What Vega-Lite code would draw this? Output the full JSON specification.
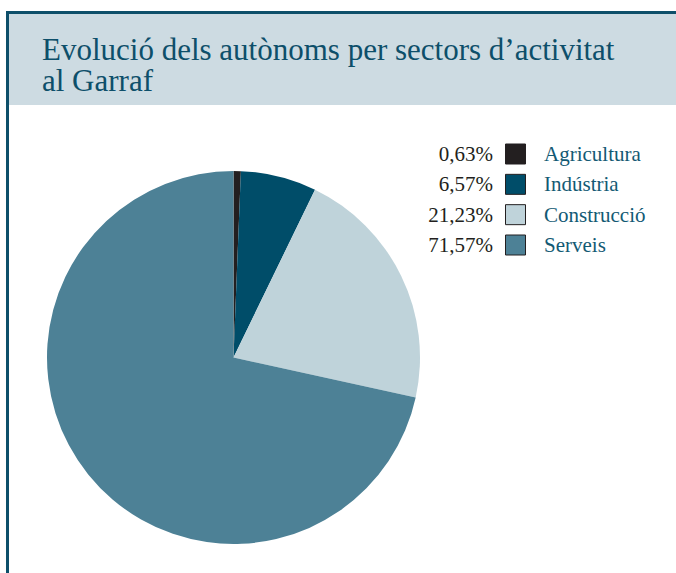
{
  "$schema": "https://vega.github.io/schema/vega-lite/v6.json",
  "background": "white",
  "padding": {"left": 6, "top": 11, "right": 0, "bottom": 0},
  "spacing": 0,
  "config": {
    "view": {"stroke": null},
    "concat": {"spacing": 0},
    "font": "Liberation Serif"
  },
  "datasets": {
    "sectors": [
      {"sector": "Agricultura", "pct": 0.63, "label": "0,63%", "order": 1},
      {"sector": "Indústria", "pct": 6.57, "label": "6,57%", "order": 2},
      {"sector": "Construcció", "pct": 21.23, "label": "21,23%", "order": 3},
      {"sector": "Serveis", "pct": 71.57, "label": "71,57%", "order": 4}
    ]
  },
  "hconcat": [
    {
      "width": 3,
      "height": 562,
      "view": {"fill": "#0d4f6a", "stroke": null},
      "data": {"values": []},
      "mark": "point"
    },
    {
      "spacing": 0,
      "vconcat": [
        {
          "width": 667,
          "height": 3,
          "view": {"fill": "#0d4f6a", "stroke": null},
          "data": {"values": []},
          "mark": "point"
        },
        {
          "width": 667,
          "height": 91,
          "view": {"fill": "#cddbe2", "stroke": null},
          "title": {
            "text": ["Evolució dels autònoms per sectors d’activitat", "al Garraf"],
            "anchor": "start",
            "frame": "group",
            "orient": "top",
            "offset": -84,
            "dx": 33,
            "font": "Liberation Serif",
            "fontSize": 31,
            "fontWeight": "normal",
            "lineHeight": 31,
            "color": "#0d4f6a"
          },
          "data": {"values": []},
          "mark": "point"
        },
        {
          "width": 667,
          "height": 37,
          "view": {"fill": "white", "stroke": null},
          "data": {"values": []},
          "mark": "point"
        },
        {
          "bounds": "flush",
          "spacing": 0,
          "hconcat": [
            {
              "width": 449,
              "height": 431,
              "view": {"fill": "white", "stroke": null},
              "data": {"name": "sectors"},
              "mark": {"type": "arc", "outerRadius": 186.5},
              "encoding": {
                "theta": {"field": "pct", "type": "quantitative", "stack": true},
                "order": {"field": "order", "type": "quantitative"},
                "color": {
                  "field": "sector",
                  "type": "nominal",
                  "scale": {
                    "domain": ["Agricultura", "Indústria", "Construcció", "Serveis"],
                    "range": ["#231f20", "#004d69", "#bfd3da", "#4d8196"]
                  },
                  "legend": null
                }
              }
            },
            {
              "width": 218,
              "height": 431,
              "view": {"fill": "white", "stroke": null},
              "data": {"name": "sectors"},
              "encoding": {
                "y": {
                  "field": "sector",
                  "type": "nominal",
                  "sort": ["Agricultura", "Indústria", "Construcció", "Serveis"],
                  "scale": {"type": "point", "range": [12, 103], "padding": 0},
                  "axis": null
                }
              },
              "layer": [
                {
                  "mark": {"type": "text", "align": "right", "baseline": "middle", "fontSize": 21, "color": "#231f20", "dy": 1},
                  "encoding": {
                    "x": {"datum": "pct", "type": "nominal", "scale": {"type": "point", "domain": ["pct", "sym", "lab"], "range": [35, 80], "padding": 0}, "axis": null},
                    "text": {"field": "label"}
                  }
                },
                {
                  "mark": {"type": "square", "size": 400, "opacity": 1, "filled": true, "stroke": "#231f20", "strokeWidth": 1},
                  "encoding": {
                    "x": {"datum": "sym", "type": "nominal"},
                    "color": {
                      "field": "sector",
                      "type": "nominal",
                      "scale": {
                        "domain": ["Agricultura", "Indústria", "Construcció", "Serveis"],
                        "range": ["#231f20", "#004d69", "#bfd3da", "#4d8196"]
                      },
                      "legend": null
                    }
                  }
                },
                {
                  "mark": {"type": "text", "align": "left", "baseline": "middle", "fontSize": 21, "color": "#135a74", "dy": 1, "dx": 6},
                  "encoding": {
                    "x": {"datum": "lab", "type": "nominal"},
                    "text": {"field": "sector"}
                  }
                }
              ]
            }
          ]
        }
      ]
    }
  ]
}
